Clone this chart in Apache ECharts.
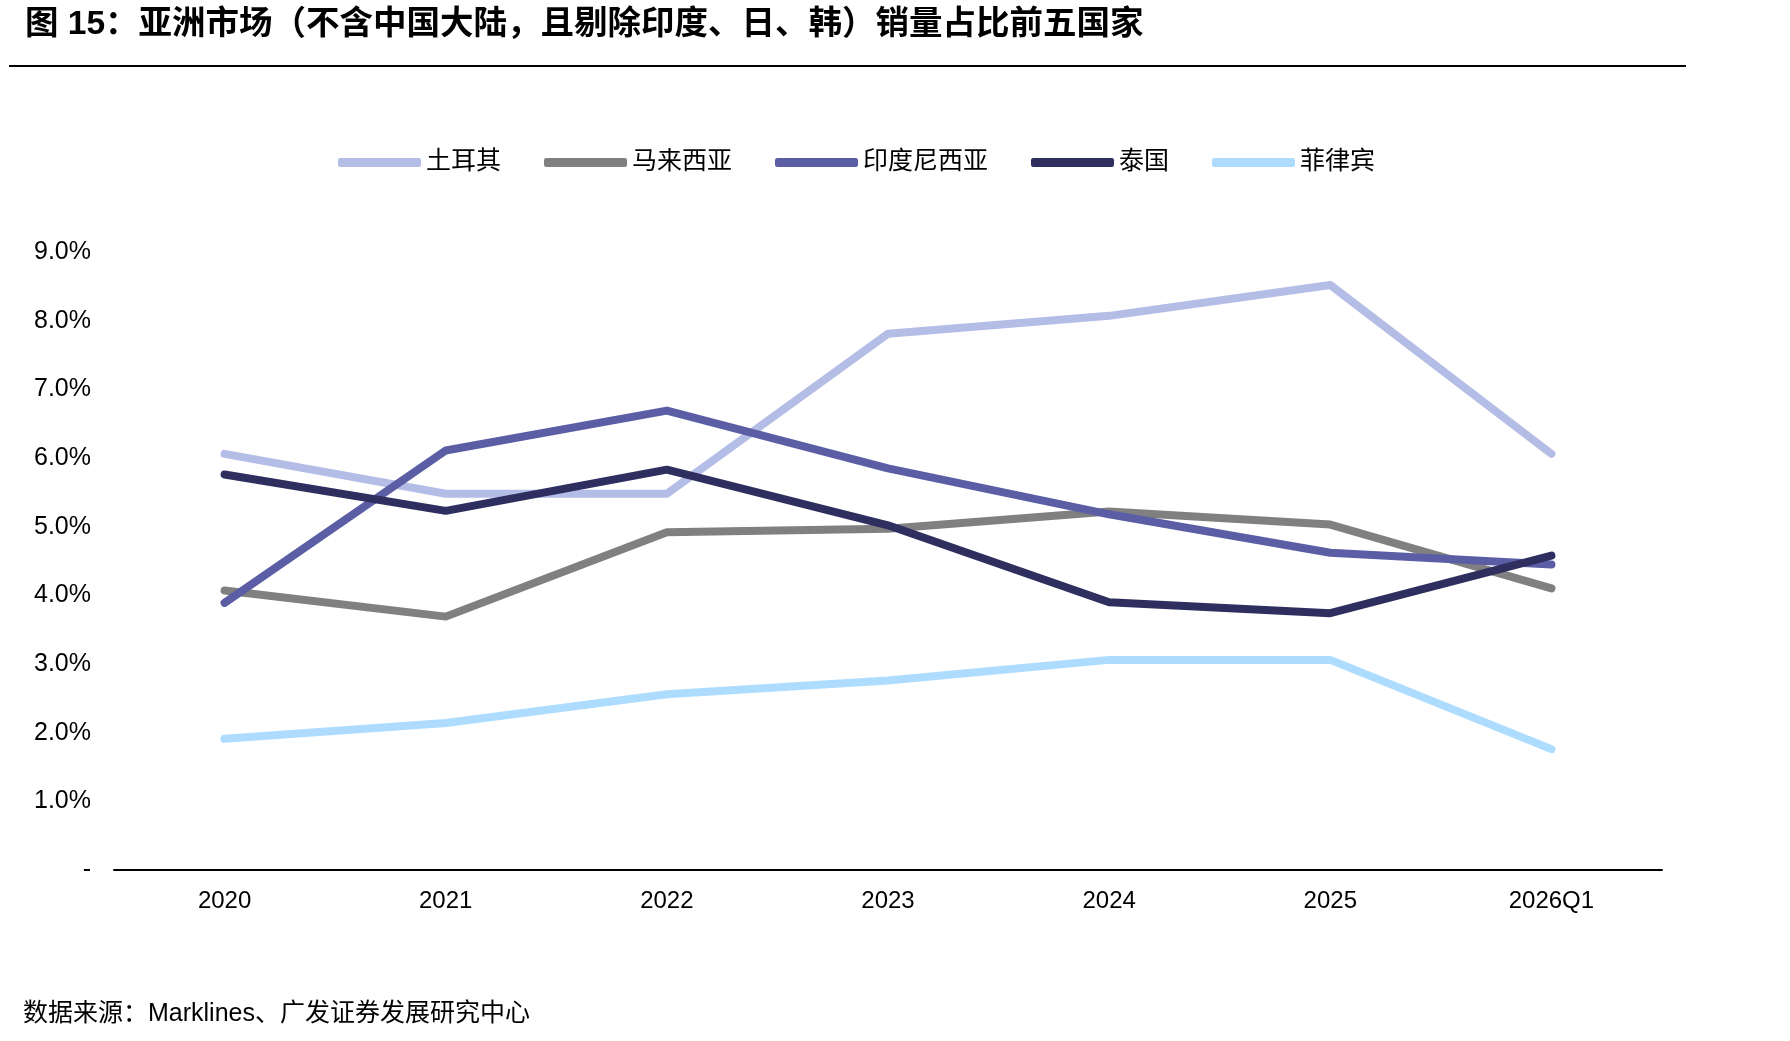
<!DOCTYPE html>
<html>
<head>
<meta charset="utf-8">
<script src="https://cdn.jsdelivr.net/npm/echarts@6/dist/echarts.min.js"></script>
<style>
  html, body { margin: 0; padding: 0; background: #fff; }
  #chart { width: 1790px; height: 1041px; }
</style>
</head>
<body>
<div id="chart"></div>
<script>
const categories = ['2020', '2021', '2022', '2023', '2024', '2025', '2026Q1']

// share of sales, %
const turkey = [6.06, 5.48, 5.48, 7.81, 8.07, 8.52, 6.06]
const malaysia = [4.07, 3.69, 4.92, 4.97, 5.22, 5.03, 4.10]
const indonesia = [3.89, 6.11, 6.69, 5.85, 5.18, 4.62, 4.45]
const thailand = [5.76, 5.23, 5.83, 5.02, 3.90, 3.74, 4.58]
const philippines = [1.91, 2.14, 2.56, 2.76, 3.06, 3.06, 1.76]

const seriesNames = ['土耳其', '马来西亚', '印度尼西亚', '泰国', '菲律宾']
const seriesColors = ['#b4bde6', '#808080', '#5b5ea4', '#2e2f5f', '#addcff']
const seriesData = [turkey, malaysia, indonesia, thailand, philippines]

const font = "'Liberation Sans', 'Noto Sans CJK SC', sans-serif"

const chart = echarts.init(document.getElementById('chart'))

const option = {
  backgroundColor: '#fff',
  animation: false,
  textStyle: { fontFamily: font },
  title: {
    text: '图 15：亚洲市场（不含中国大陆，且剔除印度、日、韩）销量占比前五国家',
    left: 20,
    top: 3,
    textStyle: { fontSize: 33.5, fontWeight: 'bold', color: '#000', fontFamily: font }
  },
  graphic: [
    {
      type: 'line',
      shape: { x1: 9, y1: 66, x2: 1686, y2: 66 },
      style: { stroke: '#000', lineWidth: 2 }
    },
    {
      type: 'text',
      left: 23,
      top: 1002,
      style: {
        text: '数据来源：Marklines、广发证券发展研究中心',
        fontSize: 25,
        fontFamily: font,
        fill: '#000'
      }
    }
  ],
  legend: {
    left: 333,
    top: 145,
    itemWidth: 83,
    itemHeight: 9,
    itemGap: 43,
    icon: 'roundRect',
    textStyle: { fontSize: 25, color: '#000' },
    data: seriesNames
  },
  grid: {
    left: 114,
    right: 128,
    top: 252,
    bottom: 171
  },
  xAxis: {
    type: 'category',
    data: categories,
    boundaryGap: true,
    axisLine: { lineStyle: { color: '#000', width: 2 } },
    axisTick: { show: false },
    axisLabel: { color: '#000', fontSize: 24, margin: 19 }
  },
  yAxis: {
    type: 'value',
    min: 0,
    max: 9,
    interval: 1,
    axisLine: { show: false },
    axisTick: { show: false },
    splitLine: { show: false },
    axisLabel: {
      color: '#000',
      fontSize: 25,
      margin: 23,
      formatter: v => v === 0 ? '-' : v.toFixed(1) + '%'
    }
  },
  series: seriesNames.map((name, i) => ({
    name,
    type: 'line',
    data: seriesData[i],
    symbol: 'none',
    color: seriesColors[i],
    lineStyle: { width: 8, color: seriesColors[i], cap: 'round', join: 'round' },
    itemStyle: { color: seriesColors[i] }
  }))
}

chart.setOption(option)
</script>
</body>
</html>
